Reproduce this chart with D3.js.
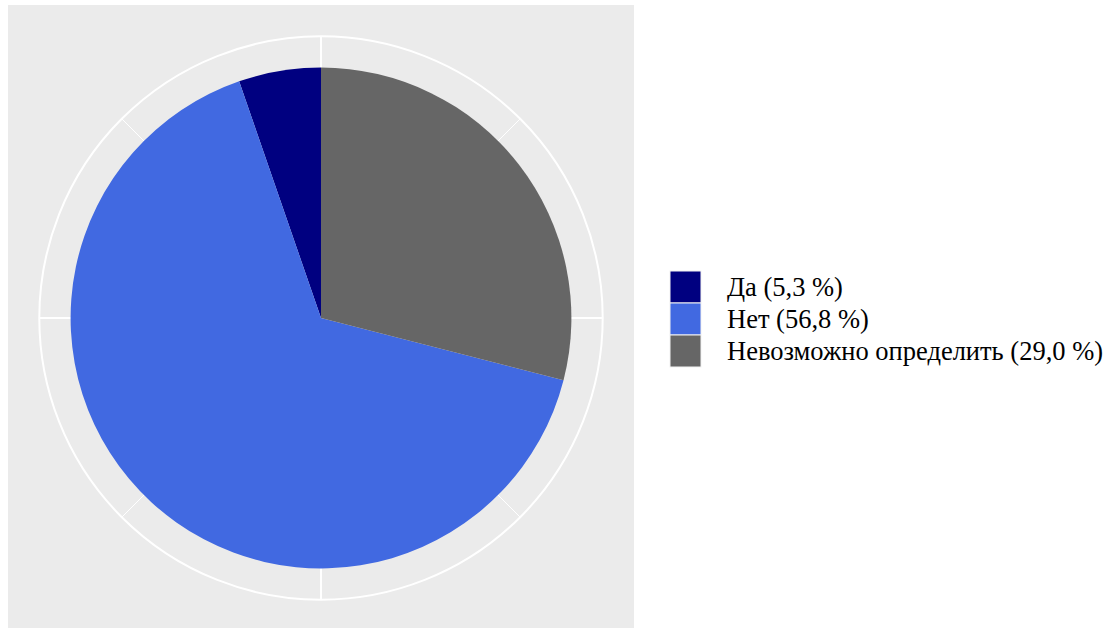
<!DOCTYPE html>
<html>
<head>
<meta charset="utf-8">
<script src="https://cdn.jsdelivr.net/npm/d3@7/dist/d3.min.js"></script>
<style>
  html, body { margin: 0; padding: 0; background: #ffffff; }
  svg { display: block; }
  .legend-text { font-family: "Liberation Serif", "Times New Roman", serif; }
</style>
</head>
<body>
<svg id="chart" width="1111" height="628"></svg>
<script>
// Answer categories, their shares (%) and fill colours
const categories = ["Да", "Нет", "Невозможно определить"];
const shares = [5.3, 56.8, 29.0];
const colors = ["#000080", "#4169E1", "#666666"];
// Theta breaks (percent of the full circle)
const majorBreaks = [0, 25, 50, 75];
const minorBreaks = [12.5, 37.5, 62.5, 87.5];

const fmt = v => v.toFixed(1).replace(".", ",");
const legendLabels = categories.map((c, i) => `${c} (${fmt(shares[i])} %)`);

const svg = d3.select("#chart");

// Panel geometry
const panel = { x: 8, y: 5, w: 626, h: 626 };
const cx = panel.x + panel.w / 2;
const cy = panel.y + panel.h / 2;
const size = Math.min(panel.w, panel.h);

// Angle: full circle = 100 %, starting at 12 o'clock, clockwise
const theta = d3.scaleLinear().domain([0, 100]).range([0, 2 * Math.PI]);
const rPie = 0.4 * size;
const rRing = 0.45 * size;

svg.append("rect")
  .attr("x", panel.x).attr("y", panel.y)
  .attr("width", panel.w).attr("height", panel.h)
  .attr("fill", "#EBEBEB");

const g = svg.append("g").attr("transform", `translate(${cx},${cy})`);

// Spokes
const spoke = (b, w) => g.append("line")
  .attr("x1", 0).attr("y1", 0)
  .attr("x2", rRing * Math.sin(theta(b)))
  .attr("y2", -rRing * Math.cos(theta(b)))
  .attr("stroke", "#ffffff").attr("stroke-width", w);
minorBreaks.forEach(b => spoke(b, 1));
majorBreaks.forEach(b => spoke(b, 2));

// Outer circle
g.append("circle").attr("r", rRing)
  .attr("fill", "none").attr("stroke", "#ffffff").attr("stroke-width", 2);

// Slices: the last category stacks from 0 clockwise, the first one ends the circle,
// the middle one takes the span between them.
const iLast = shares.length - 1;
const spans = [
  { i: 0, a0: 100 - shares[0], a1: 100 },
  { i: 1, a0: shares[iLast], a1: 100 - shares[0] },
  { i: iLast, a0: 0, a1: shares[iLast] }
];
const arc = d3.arc().innerRadius(0).outerRadius(rPie);
g.selectAll("path.slice").data(spans).join("path")
  .attr("class", "slice")
  .attr("d", d => arc({ startAngle: theta(d.a0), endAngle: theta(d.a1) }))
  .attr("fill", d => colors[d.i]);

// Legend
const key = { x: 670, y: 271, w: 31, h: 32 };
const leg = svg.append("g");
categories.forEach((c, i) => {
  leg.append("rect")
    .attr("x", key.x).attr("y", key.y + i * key.h)
    .attr("width", key.w).attr("height", key.h)
    .attr("fill", colors[i])
    .attr("stroke", "#f2f2f2").attr("stroke-width", 1);
  leg.append("text")
    .attr("class", "legend-text")
    .attr("x", 727).attr("y", key.y + i * key.h + key.h / 2 + 9)
    .style("font-size", "26.5px")
    .attr("fill", "#000000")
    .text(legendLabels[i]);
});
</script>
</body>
</html>
